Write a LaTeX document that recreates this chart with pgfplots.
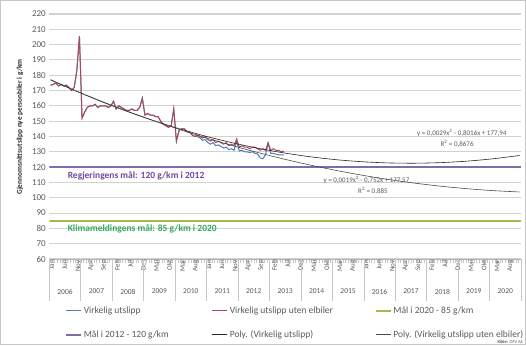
\documentclass[border=0pt]{standalone}
\usepackage{fontspec}
\setmainfont{Carlito}
\usepackage{pgfplots}
\pgfplotsset{compat=1.18}
\definecolor{cblue}{RGB}{74,126,187}
\definecolor{cred}{RGB}{172,72,88}
\definecolor{cgreen}{RGB}{160,188,80}
\definecolor{cpurple}{RGB}{128,108,170}
\definecolor{tpurple}{RGB}{112,72,160}
\definecolor{tgreen}{RGB}{50,170,90}
\definecolor{cgrid}{RGB}{210,210,210}
\definecolor{ctext}{RGB}{89,89,89}
\begin{document}
\begin{tikzpicture}[x=1pt,y=1pt]
\path[use as bounding box] (0,0) rectangle (526,345);
\draw[gray!45] (0.5,0.5) rectangle (525.5,344.5);
\begin{axis}[at={(49.3pt,86pt)}, anchor=south west, scale only axis,
  width=471.7pt, height=245pt,
  xmin=0.5, xmax=180.5, ymin=60, ymax=220,
  axis x line*=bottom, axis y line*=left,
  y axis line style={draw=none},
  x axis line style={draw=gray!60, line width=0.6pt},
  ytick={60,70,...,220}, ytick style={draw=none},
  ymajorgrids, grid style={draw=cgrid, line width=1.1pt},
  yticklabel style={font=\fontsize{9}{9}\selectfont, color=ctext},
  /pgf/number format/assume math mode=true,
  xtick={1,6,...,176},
  xticklabels={Jan,Jun,Nov,Apr,Sep,Feb,Jul,Des,Mai,Okt,Mar,Aug,Jan,Jun,Nov,Apr,Sep,Feb,Jul,Des,Mai,Okt,Mar,Aug,Jan,Jun,Nov,Apr,Sep,Feb,Jul,Des,Mai,Okt,Mar,Aug},
  major tick length=0pt, tick align=outside,
  minor xtick={0.5,1.5,...,180.5}, minor x tick style={draw=gray!45, line width=0.4pt}, minor tick length=4pt,
  xticklabel style={rotate=90, anchor=east, font=\fontsize{7}{7}\selectfont, color=ctext, inner sep=1pt, yshift=-1pt},
  extra x ticks={0.5,12.5,...,180.5}, extra x tick labels={},
  extra x tick style={major tick length=42pt, major x tick style={draw=gray!45, line width=0.5pt}},
  legend columns=3,
  legend cell align=left,
  legend image code/.code={\draw[#1] (0pt,0pt) -- (15pt,0pt);},
  legend style={at={(0.027,-0.178)}, anchor=north west, draw=none, fill=none,
    font=\fontsize{9.5}{10}\selectfont, text=ctext, column sep=0pt, row sep=11.5pt},
]
% Virkelig utslipp
\addplot[cblue, line width=1pt] coordinates {
(1,173.5)(2,174)(3,175)(4,173)(5,174)(6,173)(7,173.5)(8,172)(9,170)(10,172)
(11,183)(12,205.5)(13,152)(14,156)(15,159)(16,160)(17,160)(18,161)(19,159)(20,160)
(21,160)(22,160)(23,159)(24,160)(25,163)(26,158)(27,160)(28,159)(29,158)(30,157)
(31,157)(32,158)(33,157)(34,157)(35,159)(36,165)(37,154)(38,155)(39,154)(40,154)
(41,153)(42,153)(43,150)(44,148)(45,147)(46,146)(47,147)(48,158)(49,137)(50,144)
(51,145)(52,145)(53,143)(54,143)(55,141)(56,140)(57,140)(58,139)(59,137.5)(60,138)
(61,136)(62,135)(63,136)(64,134)(65,134.5)(66,133.5)(67,132.5)(68,133)(69,131.5)(70,132)
(71,131)(72,137)(73,130.5)(74,131)(75,130)(76,130)(77,129.5)(78,130)(79,129)(80,128.5)
(81,126)(82,125.5)(83,128)(84,135.5)(85,129)(86,129)(87,128.5)(88,128)(89,128)(90,128)
};
\addlegendentry{\makebox[126pt][l]{Virkelig utslipp}}
% Virkelig utslipp uten elbiler
\addplot[cred, line width=1pt] coordinates {
(1,173.5)(2,174)(3,175)(4,173)(5,174)(6,173)(7,173.5)(8,172)(9,170)(10,172)
(11,183)(12,205.5)(13,152)(14,156)(15,159)(16,160)(17,160)(18,161)(19,159)(20,160)
(21,160)(22,160)(23,159)(24,160)(25,163)(26,158)(27,160)(28,159)(29,158)(30,157)
(31,157)(32,158)(33,157)(34,157)(35,159)(36,165)(37,154)(38,155)(39,154)(40,154)
(41,153)(42,153)(43,150)(44,148)(45,147)(46,146)(47,147)(48,158)(49,137)(50,144)
(51,145)(52,145)(53,143)(54,143)(55,141)(56,140)(57,141)(58,140)(59,139)(60,140)
(61,138)(62,137)(63,138)(64,136)(65,137)(66,136)(67,135)(68,136)(69,134)(70,135)
(71,134)(72,138.5)(73,133)(74,134)(75,133)(76,133)(77,132)(78,133)(79,133)(80,132)
(81,131)(82,132)(83,131)(84,136)(85,131)(86,132)(87,131)(88,131)(89,130)(90,130.5)
};
\addlegendentry{\makebox[143pt][l]{Virkelig utslipp uten elbiler}}
% Mål 2020
\addplot[cgreen, line width=1.6pt] coordinates {(0.5,85)(180.5,85)};
\addlegendentry{Mål i 2020 - 85 g/km}
% Mål 2012
\addplot[cpurple, line width=1.6pt] coordinates {(0.5,120)(180.5,120)};
\addlegendentry{\makebox[126pt][l]{Mål i 2012 - 120 g/km}}
% Poly A
\addplot[black!85, line width=0.6pt, smooth] coordinates {
(1,177.14)(10,170.21)(20,163.07)(30,156.50)(40,150.52)(50,145.11)(60,140.28)(70,136.04)
(80,132.37)(90,129.29)(100,126.78)(110,124.85)(120,123.51)(130,122.74)(140,122.56)
(150,122.95)(160,123.92)(170,125.48)(180,127.61)};
\addlegendentry{\makebox[143pt][l]{Poly. (Virkelig utslipp)}}
% Poly B
\addplot[black!70, line width=0.6pt, smooth] coordinates {
(1,176.82)(10,170.24)(20,163.29)(30,156.72)(40,150.53)(50,144.72)(60,139.29)(70,134.24)
(80,129.57)(90,125.28)(100,121.37)(110,117.84)(120,114.69)(130,111.92)(140,109.53)
(150,107.52)(160,105.89)(170,104.64)(180,103.77)};
\addlegendentry{Poly. (Virkelig utslipp uten elbiler)}
\node[anchor=west, font=\bfseries\fontsize{9.5}{10}\selectfont, text=tpurple] at (axis cs:6.2,114.2) {Regjeringens mål: 120 g/km i 2012};
\node[anchor=west, font=\bfseries\fontsize{9.5}{10}\selectfont, text=tgreen] at (axis cs:6.2,79.4) {Klimameldingens mål: 85 g/km i 2020};
\node[anchor=east, font=\fontsize{7}{7}\selectfont, text=ctext] at (axis cs:176.3,142.5) {y = 0,0029x\textsuperscript{2} - 0,8016x + 177,94};
\node[font=\fontsize{7}{7}\selectfont, text=ctext] at (axis cs:156.1,135.5) {R\textsuperscript{2} = 0,8676};
\node[anchor=west, font=\fontsize{7}{7}\selectfont, text=ctext] at (axis cs:103.8,111.6) {y = 0,0019x\textsuperscript{2} - 0,752x + 177,57};
\node[font=\fontsize{7}{7}\selectfont, text=ctext] at (axis cs:124,104.6) {R\textsuperscript{2} = 0,885};
\end{axis}
\foreach \k in {0,...,14} {
  \pgfmathtruncatemacro\yr{2006+\k}
  \node[font=\fontsize{7.5}{7.5}\selectfont, text=ctext] at ({65.02+31.447*\k}, 53.5) {\yr};
}
\node[rotate=90, font=\bfseries\fontsize{7.3}{7.3}\selectfont, text=black!85] at (20,218) {Gjennomsnittsutslipp nye personbiler i g/km};
\node[anchor=south east, inner sep=0pt, font=\fontsize{4.5}{4.5}\selectfont, text=ctext] at (523,1.5) {\textbf{Kilde:} OFV AS};
\end{tikzpicture}
\end{document}
